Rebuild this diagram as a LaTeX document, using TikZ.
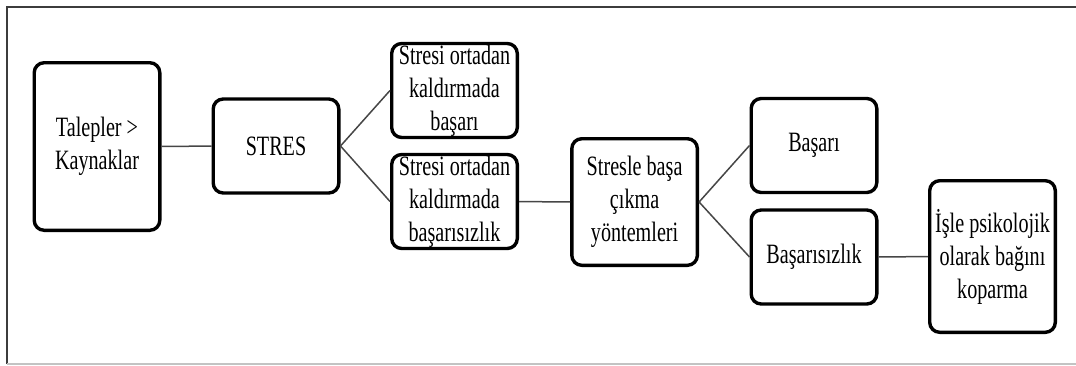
\documentclass[tikz,border=0pt]{standalone}
\usepackage{fontspec}
\setmainfont{Liberation Serif}[FakeStretch=0.72]
\usepackage{xcolor}
\usepackage{tikz}
\definecolor{linkgray}{RGB}{70,70,70}
\definecolor{framedark}{RGB}{60,60,60}
\definecolor{framelight}{RGB}{195,195,195}
\tikzset{
  box/.style={draw=black, line width=1.7pt, rounded corners=5pt, fill=white,
              inner sep=0pt, align=center, minimum width=62.8pt,
              font=\fontsize{14}{16.5}\selectfont},
  shortbox/.style={box, minimum height=47pt},
  link/.style={line width=0.75pt, linkgray},
  frameline/.style={line width=1pt, framedark}
}
\begin{document}
\begin{tikzpicture}[x=0.5pt, y=-0.5pt]
\useasboundingbox (0,0) rectangle (1076,365);
\draw[frameline] (7,364) -- (7,7) -- (1076,7);
\draw[line width=0.6pt, framelight] (7,364) -- (1076,364);
\node[box, minimum height=83.8pt] (talep) at (97,146.5) {Talepler >\\Kaynaklar};
\node[shortbox] (stres) at (276,146) {STRES};
\node[shortbox] (basari1) at (454.5,90.5) {Stresi ortadan\\kaldırmada\\başarı};
\node[shortbox] (basarisiz1) at (454.5,201.5) {Stresi ortadan\\kaldırmada\\başarısızlık};
\node[box, minimum height=63.3pt] (basa) at (634.6,202) {Stresle başa\\çıkma\\yöntemleri};
\node[shortbox] (basari2) at (814,145.5) {Başarı};
\node[shortbox] (basarisiz2) at (814,257) {Başarısızlık};
\node[box, minimum height=75.8pt] (kopar) at (992.5,256.5) {İşle psikolojik\\olarak bağını\\koparma};
\draw[link] (talep) -- (stres);
\draw[link] (stres.east) -- (basari1.west);
\draw[link] (stres.east) -- (basarisiz1.west);
\draw[link] (basarisiz1) -- (basa);
\draw[link] (basa.east) -- (basari2.west);
\draw[link] (basa.east) -- (basarisiz2.west);
\draw[link] (basarisiz2) -- (kopar);
\end{tikzpicture}
\end{document}
